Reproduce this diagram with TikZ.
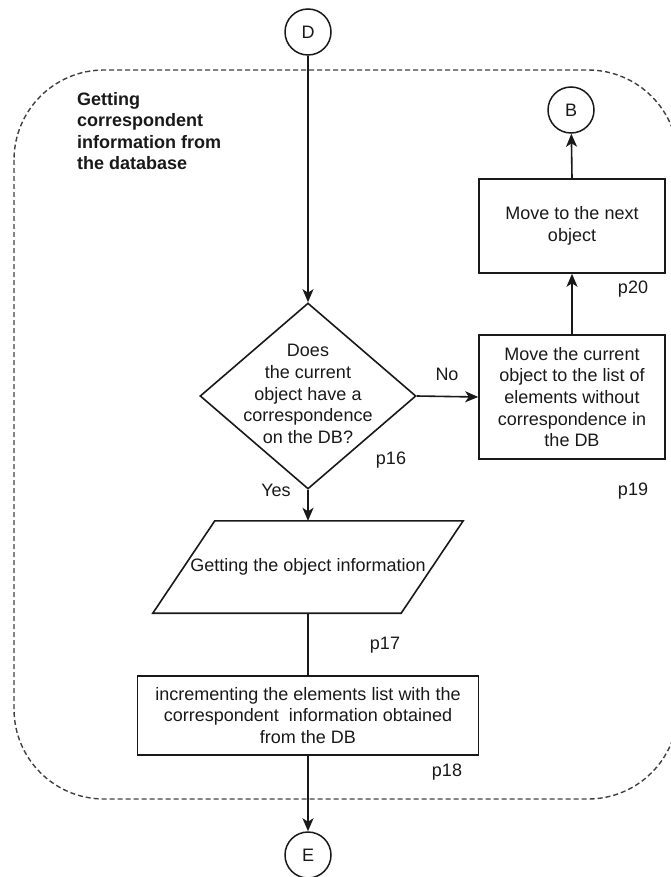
\documentclass[tikz,border=0pt]{standalone}
\usepackage{fontspec}
\setmainfont{Liberation Sans}
\usetikzlibrary{arrows.meta,shapes.geometric}

\tikzset{
  every node/.style={font=\fontsize{18}{21.6}\selectfont, text=black!90},
  flow/.style={line width=1.6pt, draw=black!90},
  arrowline/.style={flow, -{Stealth[length=13pt,width=11pt,inset=3.5pt]}},
  connector/.style={circle, draw=black!90, line width=1.5pt, minimum size=46pt, inner sep=0pt},
  process/.style={rectangle, draw=black!90, line width=1.6pt, align=center, inner sep=0pt},
  decision/.style={diamond, draw=black!90, line width=1.6pt, inner sep=0pt},
  iobox/.style={rectangle, inner sep=0pt},
  tag/.style={inner sep=0pt, anchor=center},
  group/.style={draw=black!75, line width=1.4pt, dash pattern=on 5pt off 3pt, rounded corners=90pt}
}

\begin{document}
\begin{tikzpicture}[x=1pt, y=-1pt]
  \useasboundingbox (0,0) rectangle (670,877);

  % dashed group frame
  \draw[group] (14,70) rectangle (678,799);
  \node[anchor=west, align=left, inner sep=0pt, font=\fontsize{18}{21.6}\selectfont\bfseries]
    (grouptitle) at (77,131) {Getting\\correspondent\\information from\\the database};

  % connectors
  \node[connector] (D) at (308,32) {D};
  \node[connector] (B) at (571,110) {B};
  \node[connector] (E) at (308,855) {E};

  % decision
  \node[decision, minimum width=216pt, minimum height=186pt] (q) at (308,396) {};
  \node[align=center, inner sep=0pt] (qtext) at (308,394)
    {Does\\the current\\object have a\\correspondence\\on the DB?};

  % process boxes
  \node[process, minimum width=186pt, minimum height=94pt] (p20) at (572,226)
    {Move to the next\\object};
  \node[process, minimum width=186pt, minimum height=124pt] (p19) at (572,397)
    {Move the current\\object to the list of\\elements without\\correspondence in\\the DB};

  % input/output parallelogram
  \node[iobox, minimum width=248pt, minimum height=92pt] (p17) at (308,567)
    {Getting the object information};
  \draw[flow, line join=miter]
    ([xshift=31pt]p17.north west) -- ([xshift=31pt]p17.north east)
    -- ([xshift=-31pt]p17.south east) -- ([xshift=-31pt]p17.south west) -- cycle;

  \node[process, minimum width=341pt, minimum height=79pt] (p18) at (308,715.5)
    {incrementing the elements list with the\\correspondent\ \ information obtained\\from the DB};

  % step labels
  \node[tag] (l20) at (633,289) {p20};
  \node[tag] (l16) at (391,460) {p16};
  \node[tag] (l19) at (633,491) {p19};
  \node[tag] (l17) at (385,645) {p17};
  \node[tag] (l18) at (447,772) {p18};
  \node[tag] (no)  at (447,374) {No};
  \node[tag] (yes) at (276,490) {Yes};

  % flow
  \draw[arrowline] (D) -- (q.north);
  \draw[arrowline] (q.east) -- (p19.west);
  \draw[arrowline] (p19.north) -- (p20.south);
  \draw[arrowline] (p20.north) -- (B);
  \draw[arrowline] (q.south) -- (p17.north);
  \draw[flow] (p17.south) -- (p18.north);
  \draw[arrowline] (p18.south) -- (E);
\end{tikzpicture}
\end{document}
